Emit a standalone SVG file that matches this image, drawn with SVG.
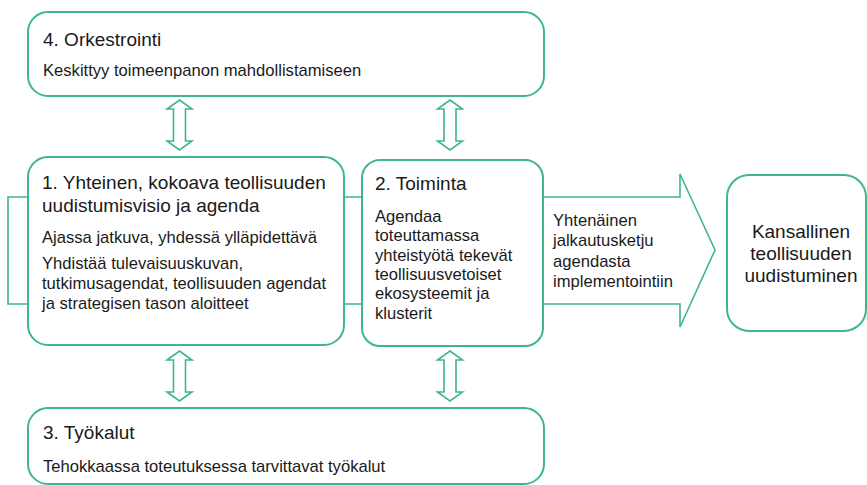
<svg xmlns="http://www.w3.org/2000/svg" width="867" height="485" viewBox="0 0 867 485">
<style>
.box{fill:#fff;stroke:#3fb68b;stroke-width:2}
.conn{fill:#fff;stroke:#3fb68b;stroke-width:1.6;stroke-linejoin:miter}
text{font-family:"Liberation Sans",Arial,sans-serif;fill:#1a1a1a}
.h{font-size:19px}
.b{font-size:16.6px}
.c{font-size:19px;text-anchor:middle}
</style>
<rect width="867" height="485" fill="#fff"/>
<g id="connectors">
<polygon class="conn" points="8,197 680,197 680,174 715,250 680,327 680,304 8,304"/>
<polygon class="conn" points="179.5,100 192,109 185.5,109 185.5,141 192,141 179.5,150 167,141 173.5,141 173.5,109 167,109"/>
<polygon class="conn" points="450,100 462.5,109 456,109 456,141 462.5,141 450,150 437.5,141 444,141 444,109 437.5,109"/>
<polygon class="conn" points="179.5,351 192,360 185.5,360 185.5,392 192,392 179.5,401 167,392 173.5,392 173.5,360 167,360"/>
<polygon class="conn" points="450,351 462.5,360 456,360 456,392 462.5,392 450,401 437.5,392 444,392 444,360 437.5,360"/>
<text class="b" x="553" y="226">Yhtenäinen</text>
<text class="b" x="553" y="246">jalkautusketju</text>
<text class="b" x="553" y="267">agendasta</text>
<text class="b" x="553" y="287">implementointiin</text>
</g>
<g id="n4">
<rect class="box" x="28" y="12" width="516" height="84" rx="20"/>
<text class="h" x="43" y="46">4. Orkestrointi</text>
<text class="b" x="43" y="76">Keskittyy toimeenpanon mahdollistamiseen</text>
</g>
<g id="n1">
<rect class="box" x="28" y="157" width="316" height="188" rx="20"/>
<text class="h" x="42" y="189">1. Yhteinen, kokoava teollisuuden</text>
<text class="h" x="42" y="212">uudistumisvisio ja agenda</text>
<text class="b" x="42" y="243">Ajassa jatkuva, yhdessä ylläpidettävä</text>
<text class="b" x="42" y="269">Yhdistää tulevaisuuskuvan,</text>
<text class="b" x="42" y="289">tutkimusagendat, teollisuuden agendat</text>
<text class="b" x="42" y="309">ja strategisen tason aloitteet</text>
</g>
<g id="n2">
<rect class="box" x="362" y="160" width="181" height="186" rx="18"/>
<text class="h" x="375" y="190">2. Toiminta</text>
<text class="b" x="375" y="222">Agendaa</text>
<text class="b" x="375" y="241">toteuttamassa</text>
<text class="b" x="375" y="261">yhteistyötä tekevät</text>
<text class="b" x="375" y="280">teollisuusvetoiset</text>
<text class="b" x="375" y="299">ekosysteemit ja</text>
<text class="b" x="375" y="319">klusterit</text>
</g>
<g id="n5">
<rect class="box" x="727" y="175" width="139" height="156" rx="22"/>
<text class="c" x="801" y="238">Kansallinen</text>
<text class="c" x="801" y="260">teollisuuden</text>
<text class="c" x="801" y="282">uudistuminen</text>
</g>
<g id="n3">
<rect class="box" x="28" y="408" width="516" height="76" rx="20"/>
<text class="h" x="43" y="439">3. Työkalut</text>
<text class="b" x="43" y="472">Tehokkaassa toteutuksessa tarvittavat työkalut</text>
</g>
</svg>
